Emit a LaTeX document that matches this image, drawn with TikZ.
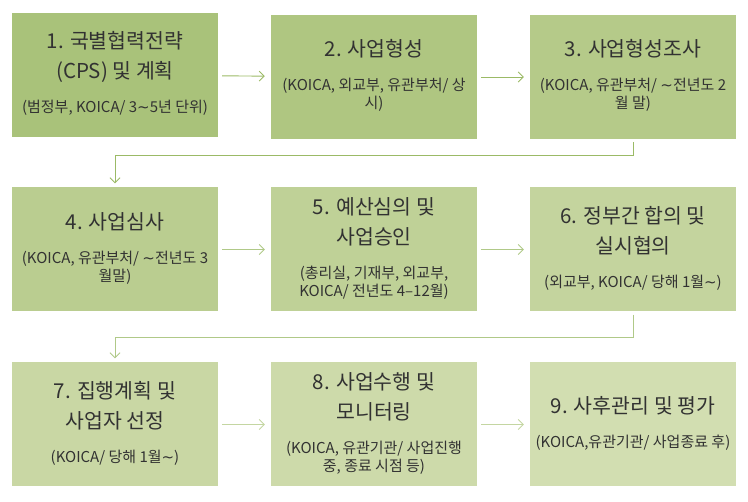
\documentclass[tikz,border=0pt]{standalone}
\usepackage{fontspec}
\setmainfont{Noto Sans CJK KR}
\newfontfamily\symfont{DejaVu Sans}
\usetikzlibrary{arrows.meta}

\definecolor{fillA}{RGB}{169,194,122}
\definecolor{fillB}{RGB}{175,198,129}
\definecolor{fillC}{RGB}{181,202,137}
\definecolor{fillD}{RGB}{186,205,144}
\definecolor{fillE}{RGB}{191,209,151}
\definecolor{fillF}{RGB}{196,212,158}
\definecolor{fillG}{RGB}{201,215,164}
\definecolor{fillH}{RGB}{205,218,170}
\definecolor{fillI}{RGB}{210,222,177}
\definecolor{lineA}{RGB}{155,186,102}
\definecolor{lineB}{RGB}{176,201,136}
\definecolor{lineC}{RGB}{196,214,162}
\definecolor{inkgray}{RGB}{50,50,50}

\newcommand{\ttl}{\fontsize{20.5}{30}\selectfont}
\newcommand{\sbt}[1]{{\fontsize{15}{18}\selectfont\begin{tabular}[t]{@{}c@{}}#1\end{tabular}}}
\newcommand{\wave}{{\symfont ∼}}

\tikzset{
  stage/.style={rectangle, minimum width=206pt, minimum height=124pt,
    inner sep=0pt, align=center, text=inkgray, font=\ttl},
  flow/.style={-{Straight Barb[length=5pt,width=10pt]}, line width=0.9pt}
}

\begin{document}
\begin{tikzpicture}[x=1pt, y=-1pt]
  \useasboundingbox (0,0) rectangle (748,502);
  % row 1
  \node[stage, fill=fillA] (s1) at (115,75) {1. 국별협력전략\\(CPS) 및 계획\\[4pt]\sbt{(범정부, KOICA/ 3\wave 5년 단위)}};
  \node[stage, fill=fillB] (s2) at (374,77) {2. 사업형성\\[4pt]\sbt{(KOICA, 외교부, 유관부처/ 상\\시)}};
  \node[stage, fill=fillC] (s3) at (633,77) {3. 사업형성조사\\[4pt]\sbt{(KOICA, 유관부처/ \wave 전년도 2\\월 말)}};
  % row 2
  \node[stage, fill=fillD] (s4) at (115,249.5) {4. 사업심사\\[4pt]\sbt{(KOICA, 유관부처/ \wave 전년도 3\\월말)}};
  \node[stage, fill=fillE] (s5) at (374,249.5) {5. 예산심의 및\\사업승인\\[4pt]\sbt{(총리실, 기재부, 외교부,\\KOICA/ 전년도 4--12월)}};
  \node[stage, fill=fillF] (s6) at (633,249.5) {6. 정부간 합의 및\\실시협의\\[4pt]\sbt{(외교부, KOICA/ 당해 1월\wave)}};
  % row 3
  \node[stage, fill=fillG] (s7) at (115,424.5) {7. 집행계획 및\\사업자 선정\\[4pt]\sbt{(KOICA/ 당해 1월\wave)}};
  \node[stage, fill=fillH] (s8) at (374,424.5) {8. 사업수행 및\\모니터링\\[4pt]\sbt{(KOICA, 유관기관/ 사업진행\\중, 종료 시점 등)}};
  \node[stage, fill=fillI] (s9) at (633,424.5) {9. 사후관리 및 평가\\[4pt]\sbt{(KOICA,유관기관/ 사업종료 후)}};

  \draw[flow, lineA, shorten <=4pt, shorten >=6pt] (s1) -- (s2);
  \draw[flow, lineA, shorten <=4pt, shorten >=6pt] (s2) -- (s3);
  \draw[flow, lineA, shorten <=3pt, shorten >=4pt] (s3.south) -- ++(0,16) -| (s4.north);
  \draw[flow, lineB, shorten <=4pt, shorten >=6pt] (s4) -- (s5);
  \draw[flow, lineB, shorten <=4pt, shorten >=6pt] (s5) -- (s6);
  \draw[flow, lineB, shorten <=3pt, shorten >=4pt] (s6.south) -- ++(0,26) -| (s7.north);
  \draw[flow, lineC, shorten <=4pt, shorten >=6pt] (s7) -- (s8);
  \draw[flow, lineC, shorten <=4pt, shorten >=6pt] (s8) -- (s9);
\end{tikzpicture}
\end{document}
